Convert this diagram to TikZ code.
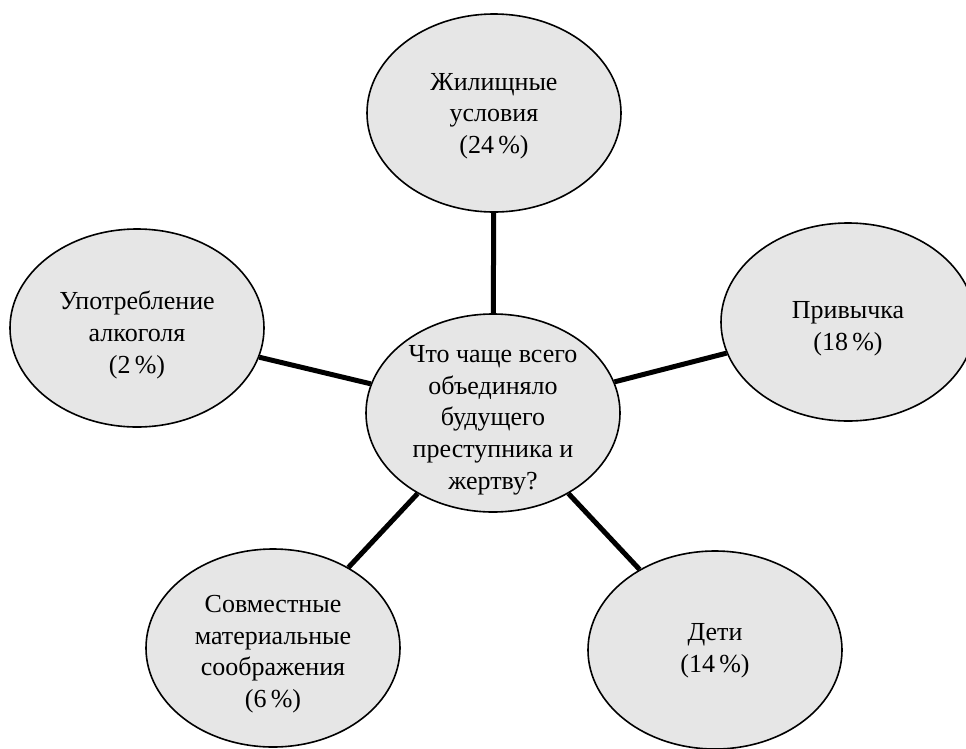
\documentclass[tikz,border=0pt]{standalone}
\usepackage{fontspec}
\setmainfont{Liberation Serif}
\usetikzlibrary{shapes.geometric}
\definecolor{bubblefill}{RGB}{230,230,230}
\tikzset{
  bubble/.style={ellipse, draw=black, line width=1.6pt, fill=bubblefill,
    minimum width=254pt, minimum height=198pt, inner sep=0pt},
  bubbletext/.style={align=center, inner sep=0pt, font=\fontsize{26}{31.7}\selectfont},
  link/.style={line width=5pt, black}
}
\begin{document}
\begin{tikzpicture}[x=1pt,y=-1pt]
\useasboundingbox (0,0) rectangle (966,748);
\node[bubble] (C)  at (493,413) {};
\node[bubble] (T)  at (494,113) {};
\node[bubble] (L)  at (137,328) {};
\node[bubble] (R)  at (848,322) {};
\node[bubble] (BL) at (273,648) {};
\node[bubble] (BR) at (715,650) {};
\node[bubbletext] (Ct)  at ([yshift=-7pt]C.center)  {Что чаще всего\\объединяло\\будущего\\преступника и\\жертву?};
\node[bubbletext] (Tt)  at ([yshift=-3pt]T.center)  {Жилищные\\условия\\(24\,\%)};
\node[bubbletext] (Lt)  at ([yshift=-7pt]L.center)  {Употребление\\алкоголя\\(2\,\%)};
\node[bubbletext] (Rt)  at ([yshift=-7pt]R.center)  {Привычка\\(18\,\%)};
\node[bubbletext] (BLt) at ([yshift=-6pt]BL.center) {Совместные\\материальные\\соображения\\(6\,\%)};
\node[bubbletext] (BRt) at ([yshift=-1pt]BR.center) {Дети\\(14\,\%)};
\draw[link] (C) -- (T);
\draw[link] (C) -- (L);
\draw[link] (C) -- (R);
\draw[link] (C) -- (BL);
\draw[link] (C) -- (BR);
\end{tikzpicture}
\end{document}
